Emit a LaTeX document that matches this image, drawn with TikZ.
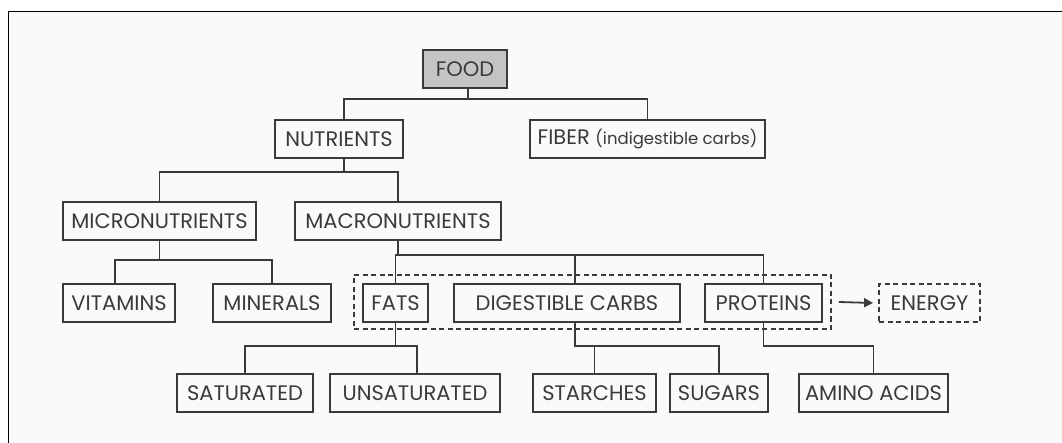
\documentclass[tikz,border=0pt]{standalone}
\usepackage{fontspec}
\setmainfont{Poppins}
\usetikzlibrary{arrows.meta}
\definecolor{ink}{HTML}{3A3A3A}
\definecolor{bgc}{HTML}{FAFAFA}
\definecolor{foodfill}{HTML}{C4C4C4}
\begin{document}
\begin{tikzpicture}[x=1pt,y=-1pt,
  box/.style={draw=ink,line width=1.8pt,minimum height=38pt,inner sep=0pt,text=ink,font=\fontsize{21}{23}\selectfont,fill=bgc},
  dbox/.style={box,dash pattern=on 5pt off 3.5pt},
  grpbox/.style={draw=ink,line width=1.8pt,dash pattern=on 5pt off 3.5pt,inner sep=0pt},
  conn/.style={draw=ink,line width=1.8pt}]
\useasboundingbox (0,0) rectangle (1062,443);
\fill[white] (0,0) rectangle (1062,443);
\fill[bgc] (8,11) rectangle (1062,443);
\draw[black,line width=1.2pt] (8.5,443) -- (8.5,11.5) -- (1062,11.5);
% group
\node[grpbox,minimum width=477pt,minimum height=54pt] (grp) at (592.5,302) {};
% nodes
\node[box,fill=foodfill,minimum width=84pt] (food) at (465,69) {FOOD};
\node[box,minimum width=128pt] (nutr) at (339,139) {NUTRIENTS};
\node[box,minimum width=235pt] (fiber) at (647.5,139) {FIBER {\fontsize{16.5}{18}\selectfont (indigestible carbs)}};
\node[box,minimum width=193pt] (micro) at (159.5,221) {MICRONUTRIENTS};
\node[box,minimum width=206pt] (macro) at (398,221) {MACRONUTRIENTS};
\node[box,minimum width=112pt] (vit) at (119,303) {VITAMINS};
\node[box,minimum width=118pt] (mins) at (272,303) {MINERALS};
\node[box,minimum width=65pt] (fats) at (395.5,303) {FATS};
\node[box,minimum width=226pt] (dig) at (567,303) {DIGESTIBLE CARBS};
\node[box,minimum width=117pt] (prot) at (763.5,303) {PROTEINS};
\node[dbox,minimum width=101pt] (energy) at (929.5,303) {ENERGY};
\node[box,minimum width=136pt] (sat) at (245,393) {SATURATED};
\node[box,minimum width=170pt] (unsat) at (415,393) {UNSATURATED};
\node[box,minimum width=123pt] (starch) at (594.5,393) {STARCHES};
\node[box,minimum width=98pt] (sugars) at (719,393) {SUGARS};
\node[box,minimum width=149pt] (amino) at (873.5,393) {AMINO ACIDS};
% levels
\coordinate (y1) at (0,99);
\coordinate (y2) at (0,172);
\coordinate (y3) at (0,260);
\coordinate (y4) at (0,255);
\coordinate (y5) at (0,346);
% connectors
\draw[conn] ([xshift=3pt]food.south) -- ([xshift=3pt]food.south |- y1) -| ([xshift=5pt]nutr.north);
\draw[conn] ([xshift=3pt]food.south |- y1) -| (fiber.north);
\draw[conn] ([xshift=5pt]nutr.south) -- ([xshift=5pt]nutr.south |- y2) -| (micro.north);
\draw[conn] ([xshift=5pt]nutr.south |- y2) -| (macro.north);
\draw[conn] (micro.south) -- (micro.south |- y3) -| ([xshift=-4pt]vit.north);
\draw[conn] (micro.south |- y3) -| (mins.north);
\draw[conn] (macro.south) -- (macro.south |- y4) -| (fats.north);
\draw[conn] (macro.south |- y4) -| ([xshift=8pt]dig.north);
\draw[conn] (macro.south |- y4) -| (prot.north);
\draw[conn] (fats.south) -- (fats.south |- y5) -| (sat.north);
\draw[conn] (fats.south |- y5) -| ([xshift=2pt]unsat.north);
\draw[conn] ([xshift=8pt]dig.south) -- ([xshift=8pt]dig.south |- y5) -| (starch.north);
\draw[conn] ([xshift=8pt]dig.south |- y5) -| (sugars.north);
\draw[conn] (prot.south) -- (prot.south |- y5) -| (amino.north);
\draw[conn,-{Triangle[length=9pt,width=9pt]}] ([xshift=7pt]grp.east) -- ([xshift=-5pt]energy.west);
\end{tikzpicture}
\end{document}
